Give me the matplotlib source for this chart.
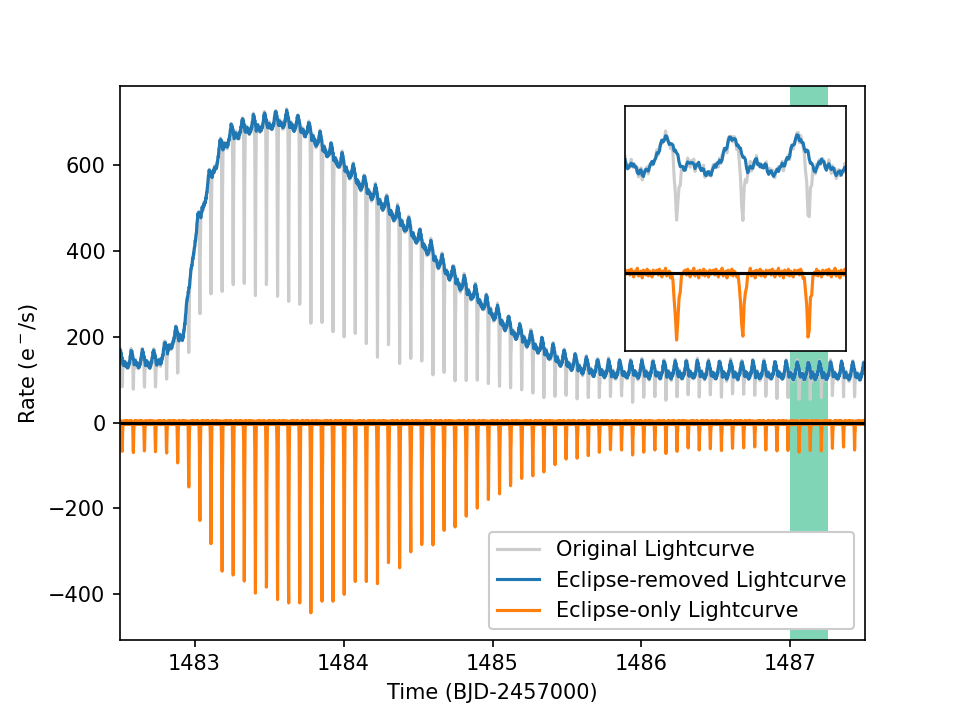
import numpy as np
import matplotlib.pyplot as plt

## slow level of the eclipse-removed curve
base_time = [1482.50, 1482.75, 1482.80, 1482.85, 1482.92, 1482.95, 1482.97, 1483.00,
             1483.03, 1483.06, 1483.10, 1483.14, 1483.18, 1483.25, 1483.34, 1483.43,
             1483.52, 1483.59, 1483.66, 1483.75, 1483.84, 1483.93, 1484.02, 1484.11,
             1484.25, 1484.34, 1484.45, 1484.56, 1484.67, 1484.79, 1484.90, 1485.01,
             1485.13, 1485.24, 1485.35, 1485.46, 1485.58, 1485.69, 1485.80, 1486.20,
             1486.80, 1487.50]
base_rate = [140, 142, 160, 190, 205, 260, 340, 420,
             470, 510, 562, 600, 640, 668, 684, 690,
             696, 700, 694, 678, 650, 618, 590, 557,
             514, 483, 445, 406, 360, 320, 288, 252,
             214, 189, 166, 144, 129, 121, 117, 116,
             115, 113]

## orbital hump around each eclipse (days from mid-eclipse, e-/s)
orbit_dt = [-0.0373, -0.030, -0.025, -0.019, -0.0135, -0.009, -0.004, 0.0,
            0.006, 0.010, 0.015, 0.020, 0.025, 0.030, 0.0373]
orbit_rate = [-12, -4, 0, 15, 27, 22, 14, 8, -8, -5, 2, -6, -3, -10, -12]

## eclipse profile as a fraction of the depth
ecl_dt = [-0.0065, -0.004, -0.002, -0.0007, 0.0007, 0.002, 0.0035, 0.005, 0.0065]
ecl_shape = [0, 0.15, 0.6, 1.0, 1.0, 0.45, 0.3, 0.1, 0]

## depth of every eclipse (e-/s)
ecl_depth = [-69, -70, -70, -70, -71, -98, -152, -228, -286, -348,
             -357, -373, -399, -385, -416, -422, -422, -447, -418, -418,
             -404, -372, -372, -379, -326, -340, -305, -284, -287, -255,
             -243, -220, -202, -179, -168, -145, -130, -126, -113, -98,
             -87, -81, -77, -69, -61, -64, -73, -67, -64, -69,
             -65, -59, -61, -59, -65, -57, -57, -55, -61, -64,
             -62, -66, -63, -63, -57, -55, -61]
t_first = 1482.514
period = 0.0745

## leftover scatter in the eclipse-only curve and flicker on the removed one
scatter = [3, -2, 4, 1, -4, 2, -1, 5, -3, 0, 2, -5, 3, 1, -2, 4, -3, 2, 0, -4, 3, -1, 2]
flicker = [2, 1, 3, -1, -2, 2, 3, -2, -3, 1, 2, -1, -3, 0, 2, 3, -1]

cadence = 2.0 / 1440
time = np.arange(1482.5, 1487.5 + cadence, cadence)

## phase to nearest eclipse
n = np.round((time - t_first) / period).astype(int)
dt = time - (t_first + n * period)
depth = np.array(ecl_depth, dtype=float)
d = np.where((n >= 0) & (n < len(depth)), depth[np.clip(n, 0, len(depth) - 1)], 0.0)

removed = (np.interp(time, base_time, base_rate) + np.interp(dt, orbit_dt, orbit_rate)
           + np.resize(flicker, time.size))
only = d * np.interp(dt, ecl_dt, ecl_shape) + np.resize(scatter, time.size)
original = removed + only

fig = plt.figure(figsize=(9.61 / 1.5, 7.19 / 1.5), dpi=150)
ax = fig.add_subplot(111)
ax.axvspan(1487.0, 1487.25, color='#80d5b6', lw=0)
ax.plot(time, original, color='0.8', label='Original Lightcurve')
ax.plot(time, removed, color='C0', label='Eclipse-removed Lightcurve')
ax.plot(time, only, color='C1', label='Eclipse-only Lightcurve')
ax.axhline(0, color='k')
ax.set_xlim(1482.5, 1487.5)
ax.set_ylim(-506, 783)
ax.set_xlabel('Time (BJD-2457000)')
ax.set_ylabel('Rate (e$^-$/s)')
ax.legend(loc='lower right', framealpha=1)

## zoom on the shaded window
axin = fig.add_axes([0.6504, 0.5122, 0.230, 0.3403])
axin.plot(time, original, color='0.8')
axin.plot(time, removed, color='C0')
axin.plot(time, only, color='C1')
axin.axhline(0, color='k')
axin.set_xlim(1487.0, 1487.25)
axin.set_ylim(-80, 172)
axin.set_xticks([])
axin.set_yticks([])

fig.savefig('out.png', dpi=150)
